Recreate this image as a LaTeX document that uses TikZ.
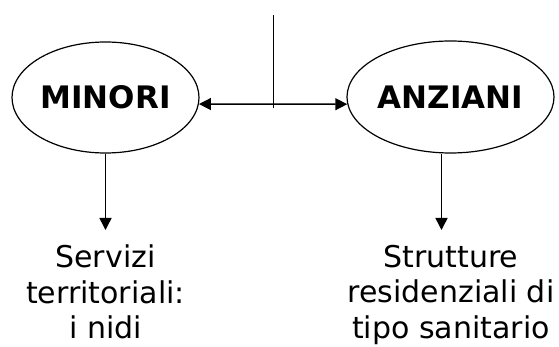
\documentclass[tikz,border=0pt]{standalone}
\usepackage{fontspec}
\setmainfont{DejaVu Sans}
\usetikzlibrary{arrows.meta,shapes.geometric}

\begin{document}
\begin{tikzpicture}[x=1pt,y=-1pt,
	oval/.style={draw, ellipse, line width=1.2pt, inner sep=0pt,
		font=\bfseries\fontsize{31}{36}\selectfont},
	target/.style={align=center, anchor=north, inner sep=0pt,
		font=\fontsize{30}{35.5}\selectfont},
	link/.style={line width=1.5pt},
	arrow/.style={link, -{Triangle[length=12pt,width=12pt]}},
	twoway/.style={link, {Triangle[length=12pt,width=12pt]}-{Triangle[length=12pt,width=12pt]}}]

% frame %{{{2

	\useasboundingbox (0,0) rectangle (559,347);

% ovals %{{{2

	\node[oval, minimum width=187pt, minimum height=111pt] (minori) at (105.5,97.5) {MINORI};
	\node[oval, minimum width=207pt, minimum height=112pt] (anziani) at (450.5,97) {ANZIANI};

% texts %{{{2

	\node[target] (servizi) at (105.5,245) {Servizi\\territoriali:\\i nidi};
	\node[target] (strutture) at (451,245) {Strutture\\residenziali di\\tipo sanitario};

% stem %{{{2

	\coordinate (stem) at (273.5,15.5);
	\draw[link] (stem) -- ++(0,92.5);

% arrows %{{{2

	\draw[twoway] (minori.-4.5) -- (anziani.184);
	\draw[arrow, shorten >=15pt] (minori.south) -- (servizi.north);
	\draw[arrow, shorten >=15pt] ([xshift=-9pt]anziani.south)
		-- ([xshift=-9pt]anziani.south |- strutture.north);

% closing %{{{2

\end{tikzpicture}
\end{document}
